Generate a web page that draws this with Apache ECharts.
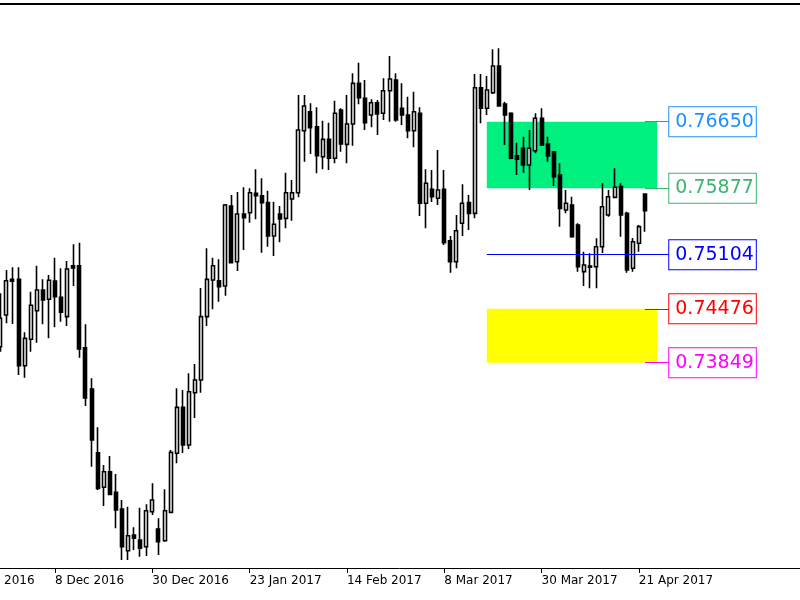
<!DOCTYPE html>
<html><head><meta charset="utf-8">
<script src="https://cdn.jsdelivr.net/npm/echarts@6/dist/echarts.min.js"></script>
<style>html,body{margin:0;padding:0;background:#fff}#c{width:800px;height:600px}</style>
</head><body><div id="c"></div>
<script>
// ---- axis / categories ----
const firstCategory = '16 Nov 2016';
const categoryCount = 139;
const tickEvery = 16;
const firstBarDate = '25 Nov 2016';

// ---- daily OHLC (AUDUSD), from 25 Nov 2016 to 24 Apr 2017 ----
const opens = [0.74035,0.74403,0.74818,0.74818,0.73814,0.74121,0.74453,0.74694,0.74586,0.74798,
0.74609,0.74384,0.74976,0.74976,0.74023,0.73543,0.72803,0.72401,0.72582,0.72342,
0.72148,0.71664,0.71846,0.71788,0.71710,0.72117,0.71916,0.71780,0.72110,0.72796,
0.73330,0.72892,0.73500,0.73648,0.74384,0.74810,0.74802,0.74740,0.75670,0.75023,
0.75577,0.75592,0.75818,0.75790,0.75709,0.75322,0.75577,0.75527,0.75752,0.75825,
0.76545,0.76766,0.76592,0.76243,0.76445,0.76225,0.76786,0.76387,0.76623,0.77096,
0.76922,0.76728,0.76871,0.76748,0.77010,0.77135,0.76806,0.76728,0.76545,0.76748,
0.75702,0.75864,0.75760,0.75864,0.75267,0.75023,0.75469,0.75709,0.75585,0.77045,
0.76806,0.76987,0.77297,0.76856,0.76748,0.76255,0.76341,0.76147,0.76313,0.76690,
0.76391,0.76301,0.76031,0.75624,0.75682,0.75449,0.74907,0.74973,0.74965,0.75197,
0.75566,0.75771,0.75895,0.75585,0.74946,0.75237,0.75810];
const closes = [0.74365,0.74802,0.74795,0.73814,0.74132,0.74516,0.74694,0.74578,0.74807,0.74616,
0.74435,0.74938,0.74950,0.74008,0.73439,0.72950,0.72389,0.72582,0.72319,0.72137,
0.71710,0.71838,0.71808,0.71692,0.72129,0.72253,0.71768,0.72129,0.72807,0.73330,
0.72892,0.73512,0.73648,0.74384,0.74818,0.74976,0.74732,0.75682,0.75011,0.75577,
0.75534,0.75825,0.75790,0.75709,0.75322,0.75458,0.75519,0.75825,0.75825,0.76554,
0.76832,0.76580,0.76255,0.76445,0.76225,0.76748,0.76391,0.76623,0.77096,0.76929,
0.76638,0.76871,0.76740,0.77010,0.77146,0.76670,0.76728,0.76545,0.76766,0.75702,
0.75934,0.75778,0.75856,0.75244,0.75023,0.75383,0.75702,0.75585,0.77045,0.76806,
0.77018,0.77297,0.76832,0.76728,0.76225,0.76213,0.76147,0.76341,0.76690,0.76379,
0.76251,0.76011,0.75643,0.75702,0.75313,0.74965,0.74984,0.74958,0.75197,0.75662,
0.75778,0.75888,0.75566,0.74926,0.75255,0.75430,0.75616];
const lows = [0.73977,0.74307,0.74299,0.73706,0.73675,0.73977,0.74081,0.74295,0.74132,0.74260,
0.74325,0.74275,0.74740,0.73907,0.73346,0.72640,0.72369,0.72183,0.72311,0.71924,
0.71556,0.71556,0.71672,0.71594,0.71602,0.72079,0.71614,0.71768,0.72098,0.72680,
0.72799,0.72846,0.73206,0.73500,0.74275,0.74470,0.74558,0.74628,0.75004,0.74915,
0.75159,0.75476,0.75516,0.75127,0.75197,0.75089,0.75248,0.75411,0.75499,0.75771,
0.76185,0.76275,0.76050,0.76097,0.76089,0.76167,0.76301,0.76167,0.76371,0.76852,
0.76554,0.76585,0.76495,0.76670,0.76650,0.76650,0.76612,0.76457,0.76352,0.75554,
0.75411,0.75717,0.75682,0.75217,0.74895,0.74946,0.75322,0.75391,0.75527,0.76631,
0.76728,0.76972,0.76824,0.76379,0.76213,0.76031,0.76057,0.75856,0.76283,0.76368,
0.76185,0.75903,0.75430,0.75585,0.75300,0.74907,0.74740,0.74714,0.74714,0.75124,
0.75546,0.75760,0.75313,0.74895,0.74907,0.75139,0.75371];
const highs = [0.74656,0.74926,0.74958,0.74958,0.74202,0.74674,0.74976,0.74818,0.74868,0.75069,
0.74946,0.75031,0.75225,0.75244,0.74295,0.73668,0.73098,0.72660,0.72764,0.72555,
0.72253,0.72175,0.71936,0.72164,0.72203,0.72447,0.72040,0.72377,0.72834,0.73551,
0.73532,0.73726,0.73834,0.74717,0.75179,0.75069,0.75051,0.75693,0.75798,0.75833,
0.75888,0.75876,0.76097,0.75992,0.75848,0.75720,0.75670,0.76057,0.75972,0.76960,
0.76960,0.76864,0.76817,0.76662,0.76638,0.76894,0.76806,0.76960,0.77213,0.77336,
0.77135,0.76910,0.76902,0.77154,0.77414,0.77213,0.77096,0.76941,0.76999,0.76817,
0.76097,0.76089,0.76321,0.76089,0.75322,0.75566,0.75922,0.75798,0.77204,0.77204,
0.77181,0.77492,0.77503,0.76882,0.76760,0.76406,0.76476,0.76554,0.76748,0.76806,
0.76476,0.76310,0.76167,0.75856,0.75778,0.75469,0.75139,0.75120,0.75295,0.75934,
0.75856,0.76108,0.75934,0.75604,0.75298,0.75449,0.75815];

// ---- drawn objects ----
const zoneStart = '17 Mar 2017';
const zoneEnd = '26 Apr 2017';
const upperZone = [0.76650, 0.75877];
const lowerZone = [0.74476, 0.73849];
const pivotLevel = 0.75104;
const labelAnchor = '24 Apr 2017';
const labelEnd = '28 Apr 2017';
const priceLevels = [0.76650, 0.75877, 0.75104, 0.74476, 0.73849];

// ---- y range of the visible window ----
const yMin = 0.71463, yMax = 0.78018;

// styles
const levelColors = ['#1E90FF', '#3CB371', '#0000FF', '#FF0000', '#FF00FF'];

const months = ['Jan','Feb','Mar','Apr','May','Jun','Jul','Aug','Sep','Oct','Nov','Dec'];
const categories = [];
(function(){
  const p = firstCategory.split(' ');
  const d = new Date(Date.UTC(+p[2], months.indexOf(p[1]), +p[0]));
  while (categories.length < categoryCount) {
    const wd = d.getUTCDay();
    if (wd !== 0 && wd !== 6) categories.push(d.getUTCDate() + ' ' + months[d.getUTCMonth()] + ' ' + d.getUTCFullYear());
    d.setUTCDate(d.getUTCDate() + 1);
  }
})();
const start = categories.indexOf(firstBarDate);
const lastBar = start + opens.length - 1;
const candleData = categories.map((c, i) => {
  const k = i - start;
  if (k < 0 || k >= opens.length) return '-';
  return [opens[k], closes[k], lows[k], highs[k]];
});
const showTick = (idx) => idx % tickEvery === 0 && idx <= lastBar;

function levelLabel(v, color) {
  return {
    show: true, position: 'end', distance: 0,
    formatter: v.toFixed(5),
    color: color, fontFamily: 'DejaVu Sans', fontSize: 19, lineHeight: 21,
    backgroundColor: '#fff', borderColor: color, borderWidth: 1,
    padding: [4, 2, 4, 6]
  };
}
const markLines = [];
priceLevels.forEach((v, idx) => {
  const color = levelColors[idx];
  const from = (v === pivotLevel) ? zoneStart : labelAnchor;
  const ls = { color: color, width: 1, type: 'solid', opacity: 1 };
  markLines.push([
    { coord: [from, v], lineStyle: ls, label: levelLabel(v, color) },
    { coord: [labelEnd, v], lineStyle: ls }
  ]);
});

const chart = echarts.init(document.getElementById('c'), null, { renderer: 'canvas' });
chart.setOption({
  animation: false,
  backgroundColor: '#fff',
  grid: { left: -45.3, right: 0, top: 4, bottom: 32, containLabel: false, outerBoundsMode: 'none' },
  xAxis: [{
    type: 'category', data: categories, position: 'bottom', boundaryGap: true,
    axisLine: { lineStyle: { color: '#000', width: 1 } },
    axisTick: { show: true, alignWithLabel: true, interval: showTick, length: 5, lineStyle: { color: '#000' } },
    axisLabel: { interval: showTick, align: 'left', margin: 7, color: '#000', fontFamily: 'DejaVu Sans', fontSize: 12, hideOverlap: false },
    splitLine: { show: false }
  }, {
    type: 'category', data: categories, position: 'top',
    axisLine: { lineStyle: { color: '#000', width: 2 } },
    axisTick: { show: false }, axisLabel: { show: false }, splitLine: { show: false }
  }],
  yAxis: { type: 'value', min: yMin, max: yMax, show: false, splitLine: { show: false } },
  series: [{
    type: 'candlestick',
    data: candleData,
    barWidth: 3.5,
    z: 2,
    itemStyle: { color: '#fff', color0: '#000', borderColor: '#000', borderColor0: '#000', borderColorDoji: '#000', borderWidth: 1.6 },
    markArea: {
      silent: true, z: 1,
      data: [
        [{ coord: [zoneStart, upperZone[0]], itemStyle: { color: '#00F080', opacity: 1 } }, { coord: [zoneEnd, upperZone[1]] }],
        [{ coord: [zoneStart, lowerZone[0]], itemStyle: { color: '#FFFF00', opacity: 1 } }, { coord: [zoneEnd, lowerZone[1]] }]
      ]
    },
    markLine: {
      silent: true, z: 5, symbol: ['none', 'none'],
      data: markLines
    }
  }]
});
</script></body></html>
